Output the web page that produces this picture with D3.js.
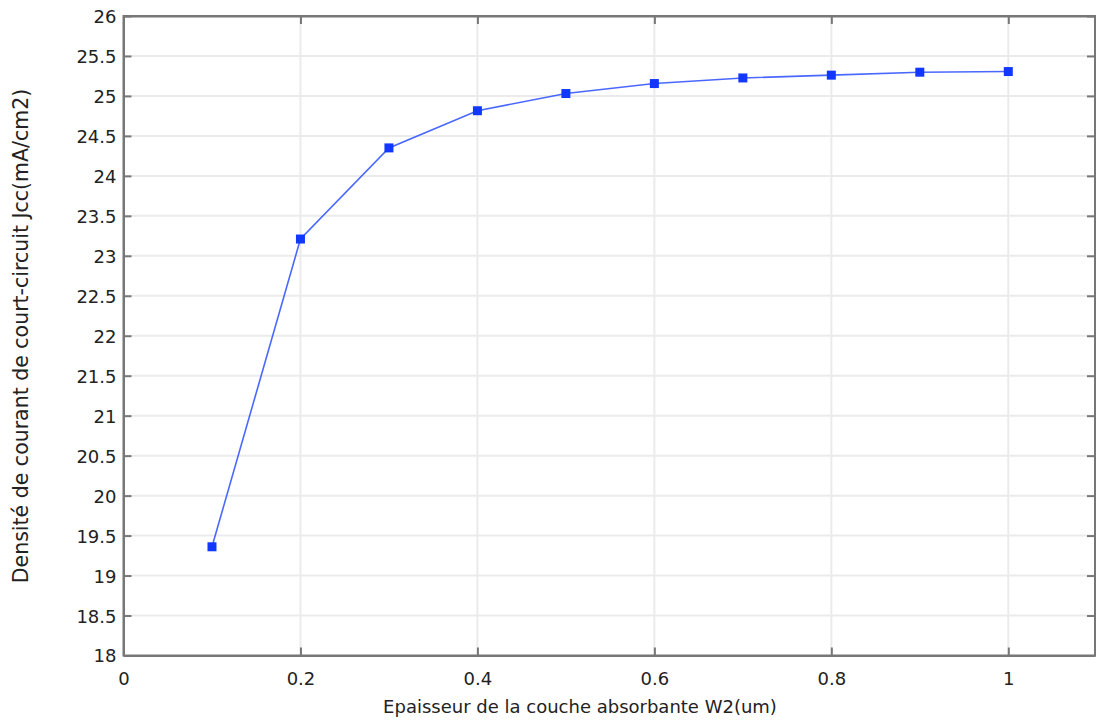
<!DOCTYPE html>
<html><head><meta charset="utf-8">
<script src="https://cdn.jsdelivr.net/npm/d3@7"></script>
<style>body{margin:0;background:#fff}svg{display:block}text{font-family:"DejaVu Sans",sans-serif}</style>
</head><body>
<svg id="c" width="1096" height="724"></svg>
<script>
const xValues = [0.1,0.2,0.3,0.4,0.5,0.6,0.7,0.8,0.9,1.0];
const jccValues = [19.36,23.21,24.35,24.815,25.03,25.155,25.225,25.26,25.297,25.305];
const xTicks = [0,0.2,0.4,0.6,0.8,1];
const yTicks = [18,18.5,19,19.5,20,20.5,21,21.5,22,22.5,23,23.5,24,24.5,25,25.5,26];
const xLabel = "Epaisseur de la couche absorbante W2(um)";
const yLabel = "Densité de courant de court-circuit Jcc(mA/cm2)";

const svg = d3.select("#c");
const L=123.5, R=1095, T=16, B=655.5;
const x = d3.scaleLinear().domain([0,1.098]).range([L,R]);
const y = d3.scaleLinear().domain([18,26]).range([B,T]);
const g = svg.append("g");
// grid
g.selectAll(".gx").data(xTicks.filter(d=>d>0)).enter().append("line")
 .attr("x1",d=>x(d)).attr("x2",d=>x(d)).attr("y1",T).attr("y2",B)
 .attr("stroke","#ebebeb").attr("stroke-width",2);
g.selectAll(".gy").data(yTicks.filter(d=>d>18&&d<26)).enter().append("line")
 .attr("x1",L).attr("x2",R).attr("y1",d=>y(d)).attr("y2",d=>y(d))
 .attr("stroke","#ebebeb").attr("stroke-width",2);
// frame
g.append("rect").attr("x",L).attr("y",T).attr("width",R-L).attr("height",B-T)
 .attr("fill","none").attr("stroke","#777").attr("stroke-width",2);
// axes
const ax = svg.append("g").attr("transform",`translate(0,${B})`)
 .call(d3.axisBottom(x).tickValues(xTicks).tickSizeInner(-8).tickSizeOuter(0).tickPadding(17).tickFormat(d3.format("")));
const axT = svg.append("g").attr("transform",`translate(0,${T})`)
 .call(d3.axisTop(x).tickValues(xTicks).tickSizeInner(-8).tickSizeOuter(0).tickFormat(""));
const ay = svg.append("g").attr("transform",`translate(${L},0)`)
 .call(d3.axisLeft(y).tickValues(yTicks).tickSizeInner(-8).tickSizeOuter(0).tickPadding(7).tickFormat(d3.format("")));
const ayR = svg.append("g").attr("transform",`translate(${R},0)`)
 .call(d3.axisRight(y).tickValues(yTicks).tickSizeInner(-8).tickSizeOuter(0).tickFormat(""));
[ax,axT,ay,ayR].forEach(a=>{
  a.select(".domain").attr("stroke","#777").attr("stroke-width",2);
  a.selectAll(".tick line").attr("stroke","#777").attr("stroke-width",2);
  a.selectAll(".tick text").attr("font-size",18).attr("fill","#222").attr("font-family","DejaVu Sans");
});
ay.selectAll(".tick text").attr("dy","0.36em");
// line
svg.append("path").datum(xValues.map((d,i)=>[d,jccValues[i]]))
 .attr("d",d3.line().x(d=>x(d[0])).y(d=>y(d[1])))
 .attr("fill","none").attr("stroke","#2a4dff").attr("stroke-opacity",0.85).attr("stroke-width",1.6);
svg.selectAll(".m").data(xValues).enter().append("rect")
 .attr("x",(d)=>x(d)-4.5).attr("y",(d,i)=>y(jccValues[i])-4.5).attr("width",9).attr("height",9)
 .attr("fill","#1238ff");
// labels
svg.append("text").attr("x",580).attr("y",713).attr("text-anchor","middle")
 .attr("font-size",18).attr("fill","#222").text(xLabel);
svg.append("text").attr("transform","translate(28,336) rotate(-90)").attr("text-anchor","middle")
 .attr("font-size",20.5).attr("fill","#222").text(yLabel);
</script>
</body></html>
